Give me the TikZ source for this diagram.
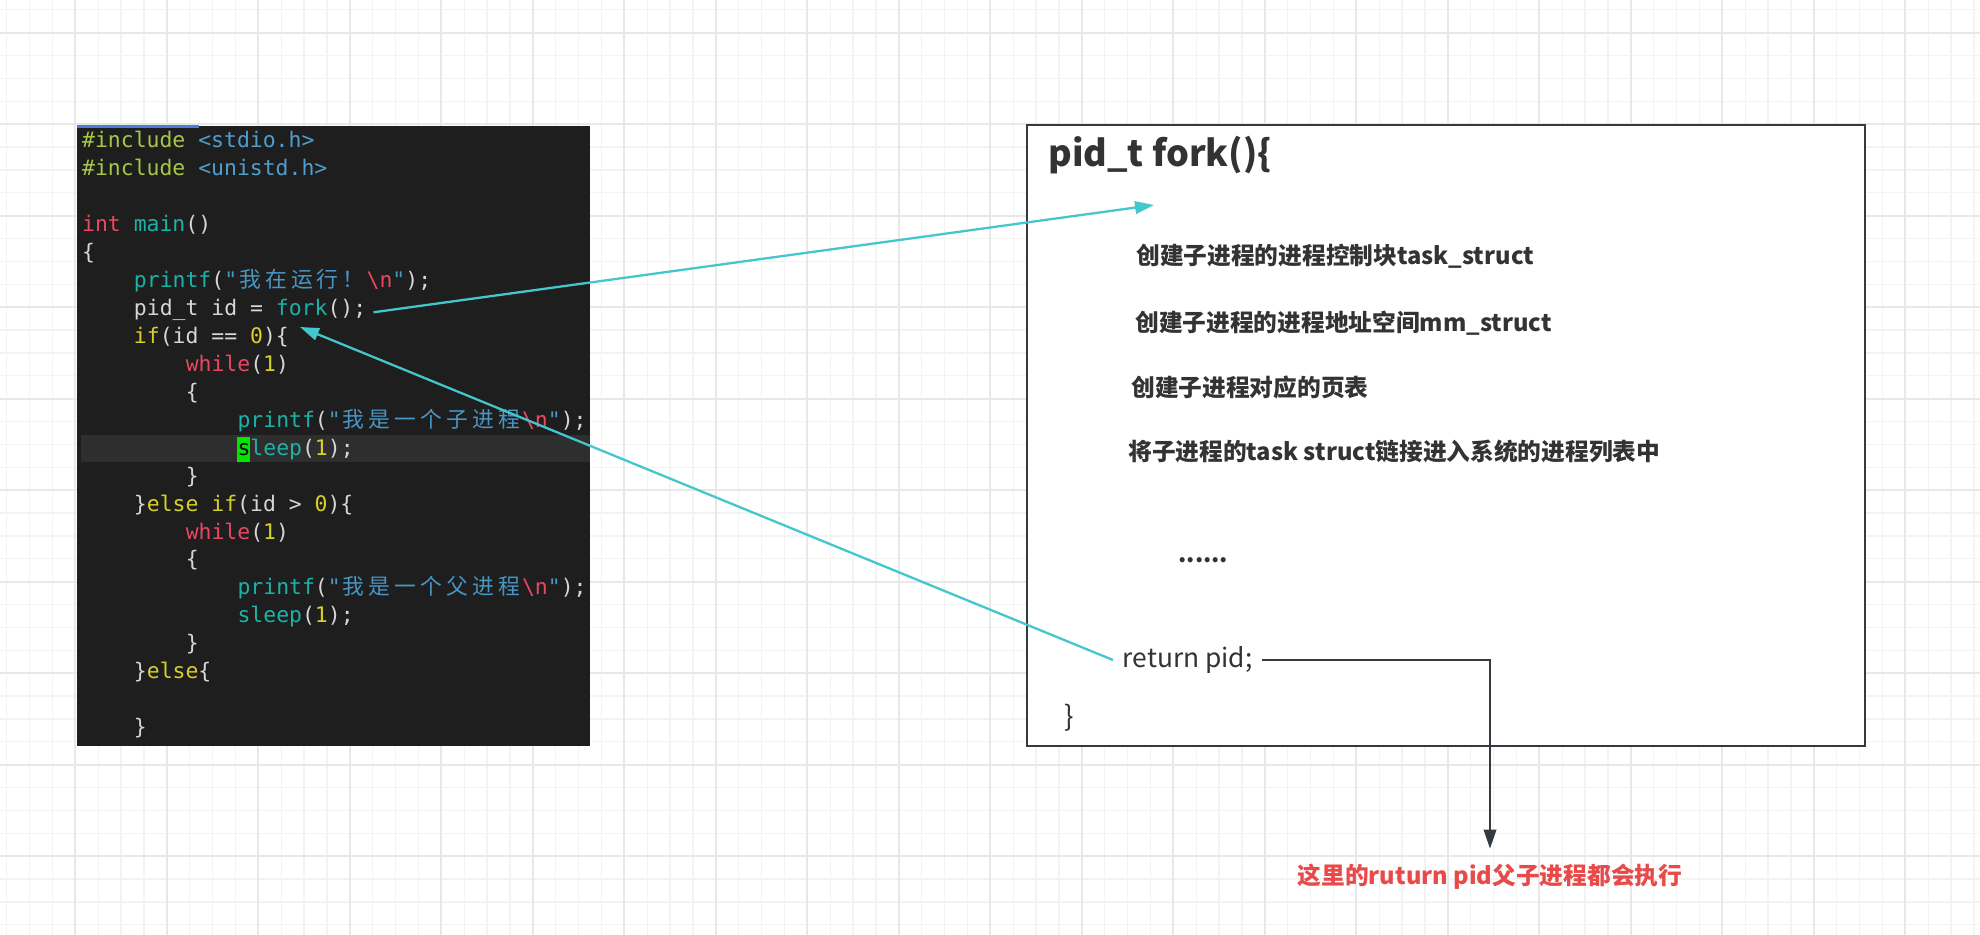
\documentclass[tikz,border=0pt]{standalone}
\usepackage{fontspec}
\setmonofont{DejaVu Sans Mono}
\newfontfamily\cjk{Noto Sans CJK SC}
\definecolor{CodeBg}{RGB}{30,30,30}
\definecolor{CodeLine}{RGB}{46,46,46}
\definecolor{CodeText}{RGB}{214,214,214}
\definecolor{CodeInc}{RGB}{166,198,74}
\definecolor{CodeHdr}{RGB}{78,158,208}
\definecolor{CodeRed}{RGB}{232,72,98}
\definecolor{CodeFun}{RGB}{28,178,168}
\definecolor{CodeYel}{RGB}{214,208,42}
\definecolor{CodeStr}{RGB}{72,150,196}
\definecolor{CodeCursor}{RGB}{0,230,0}
\definecolor{CodeTab}{RGB}{74,127,212}
\definecolor{ForkCyan}{RGB}{67,198,204}
\definecolor{BoxLine}{RGB}{52,58,64}
\definecolor{BodyText}{RGB}{51,51,51}
\definecolor{NoteRed}{RGB}{232,74,74}
\definecolor{GridMinor}{RGB}{243,243,243}
\definecolor{GridMajor}{RGB}{232,232,232}
\usetikzlibrary{
    arrows.meta,
    positioning,
}
\newcommand\codefont{\ttfamily\fontsize{12.2pt}{14pt}\selectfont}
\newcommand\codecjk{\cjk\fontsize{12.4pt}{14pt}\selectfont}
\newcommand\cPre[1]{\textcolor{CodeInc}{#1}}
\newcommand\cHdr[1]{\textcolor{CodeHdr}{#1}}
\newcommand\cRed[1]{\textcolor{CodeRed}{#1}}
\newcommand\cFun[1]{\textcolor{CodeFun}{#1}}
\newcommand\cYel[1]{\textcolor{CodeYel}{#1}}
\newcommand\cStr[1]{\textcolor{CodeStr}{#1}}
\newcommand\cEsc{\textcolor{CodeRed}{\textbackslash n}}
\newlength\cjkcell
\setlength\cjkcell{0.518cm}
\makeatletter
\def\cn#1{\cn@loop#1\@nil}
\def\cn@loop#1{\ifx#1\@nil\else\makebox[\cjkcell]{\codecjk#1}\expandafter\cn@loop\fi}
\makeatother

\begin{document}
\begin{tikzpicture}[
    x=0.02cm, y=-0.02cm,
    codeline/.style={anchor=base west, inner sep=0pt, font=\codefont, text=CodeText},
    forktext/.style={anchor=west, inner sep=0pt, text=BodyText, font=\cjk\bfseries\fontsize{13.5pt}{16pt}\selectfont},
    forkarr/.style={-{Triangle[length=0.38cm, width=0.25cm]}, ForkCyan, line width=1.3pt},
    retarr/.style={-{Triangle[length=0.38cm, width=0.25cm]}, BoxLine, line width=1.2pt},
    gridminor/.style={GridMinor, line width=0.7pt},
    gridmajor/.style={GridMajor, line width=1.1pt}
]
    \useasboundingbox (0,0) rectangle (1980,935);
    \fill[white] (0,0) rectangle (1980,935);
    % grid paper
    \foreach \i in {0,...,87} \draw[gridminor] ({-16.2+22.875*\i},0) -- ++(0,935);
    \foreach \j in {0,...,40} \draw[gridminor] (0,{9.825+22.875*\j}) -- ++(1980,0);
    \foreach \i in {0,...,22} \draw[gridmajor] ({-16.2+91.5*\i},0) -- ++(0,935);
    \foreach \j in {0,...,9} \draw[gridmajor] (0,{32.7+91.5*\j}) -- ++(1980,0);

    % code window
    \node[fill=CodeBg, inner sep=0pt, minimum width=10.27cm, minimum height=12.4cm] (codebox) at (333.3,436) {};
    \draw[CodeTab, line width=1.2pt] (77,126.5) -- (199,126.5);
    \fill[CodeLine] (81,435) rectangle (589.6,462);
    \fill[CodeCursor] (237,437) rectangle (250,462);
    \node[codeline] (inc1) at (81.8,147.7) {\cPre{\#include} \cHdr{<stdio.h>}};
    \node[codeline] (inc2) at (81.8,175.6) {\cPre{\#include} \cHdr{<unistd.h>}};
    \node[codeline] (mainhead) at (81.8,231.5) {\cRed{int} \cFun{main}()};
    \node[codeline] (mainopen) at (81.8,259.5) {\{};
    \node[codeline] (running) at (133.6,287.4) {\cFun{printf}(\cStr{"\cn{我在运行！}}\cEsc\cStr{"});};
    \node[codeline] (forkcall) at (133.6,315.4) {pid\_t id = \cFun{fork}();};
    \node[codeline] (ifchild) at (133.6,343.3) {\cYel{if}(id == \cYel{0})\{};
    \node[codeline] (loop1) at (185.4,371.3) {\cRed{while}(\cYel{1})};
    \node[codeline] (loop1open) at (185.4,399.2) {\{};
    \node[codeline] (childprint) at (237.2,427.2) {\cFun{printf}(\cStr{"\cn{我是一个子进程}}\cEsc\cStr{"});};
    \node[codeline] (childsleep) at (237.2,455.1) {\textcolor{black}{s}\cFun{leep}(\cYel{1});};
    \node[codeline] (loop1close) at (185.4,483.1) {\}};
    \node[codeline] (ifparent) at (133.6,511.0) {\}\cYel{else if}(id > \cYel{0})\{};
    \node[codeline] (loop2) at (185.4,539.0) {\cRed{while}(\cYel{1})};
    \node[codeline] (loop2open) at (185.4,566.9) {\{};
    \node[codeline] (parentprint) at (237.2,594.9) {\cFun{printf}(\cStr{"\cn{我是一个父进程}}\cEsc\cStr{"});};
    \node[codeline] (parentsleep) at (237.2,622.8) {\cFun{sleep}(\cYel{1});};
    \node[codeline] (loop2close) at (185.4,650.8) {\}};
    \node[codeline] (elsebranch) at (133.6,678.7) {\}\cYel{else}\{};
    \node[codeline] (elseclose) at (133.6,734.6) {\}};

    % fork() body
    \node[draw=BoxLine, line width=1.4pt, fill=white, inner sep=0pt, minimum width=16.76cm, minimum height=12.42cm] (forkbox) at (1446,435.5) {};
    \node[forktext, font=\cjk\bfseries\fontsize{20.5pt}{24pt}\selectfont] (forktitle) at (1048,155) {pid\_t fork()\{};
    \node[forktext] (mkpcb) at (1136,256.7) {创建子进程的进程控制块task\_struct};
    \node[forktext] (mkmm) at (1135,323) {创建子进程的进程地址空间mm\_struct};
    \node[forktext] (mkpage) at (1131,387) {创建子进程对应的页表};
    \node[forktext] (linktask) at (1128,451) {将子进程的task struct链接进入系统的进程列表中};
    \node[forktext, anchor=base west] (moresteps) at (1178,562) {......};
    \node[forktext, font=\cjk\fontsize{15pt}{18pt}\selectfont, inner xsep=0.19cm] (retpid) at (1113,660) {return pid;};
    \node[forktext, font=\cjk\fontsize{16pt}{18pt}\selectfont] (forkclose) at (1064,718) {\}};
    \node[forktext, anchor=center, text=NoteRed] (note) at (1490,876.7) {这里的ruturn pid父子进程都会执行};

    \coordinate (forkentry) at (1154,205);
    \coordinate (childback) at (300,327);
    \draw[forkarr] ([xshift=0.14cm, yshift=-0.05cm]forkcall.east) -- (forkentry);
    \draw[forkarr] (retpid.west) -- (childback);
    \draw[retarr] (retpid.east) -| ([yshift=0.3cm]note.north);
\end{tikzpicture}
\end{document}
